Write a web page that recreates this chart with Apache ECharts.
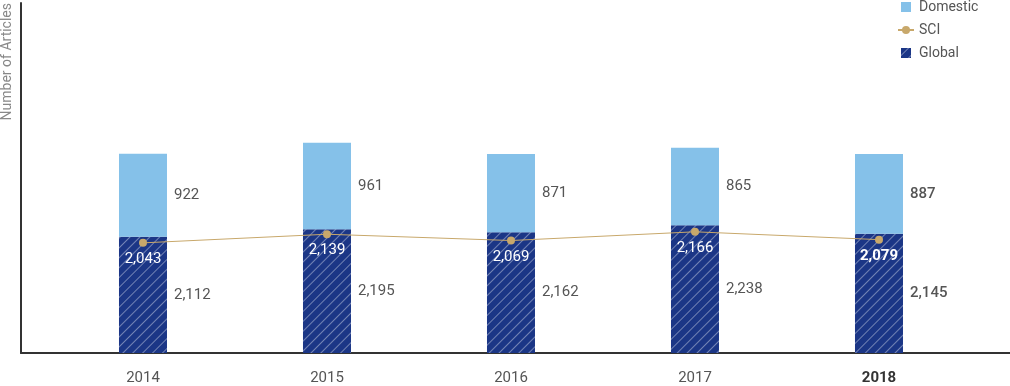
<!DOCTYPE html>
<html><head><meta charset="utf-8">
<script src="https://cdn.jsdelivr.net/npm/echarts@6/dist/echarts.min.js"></script>
<style>html,body{margin:0;padding:0;background:#fff}#c{width:1010px;height:386px}</style>
</head><body><div id="c"></div>
<script>
const years = ['2014', '2015', '2016', '2017', '2018'];
const domestic = [922, 961, 871, 865, 887];
const globalVals = [2112, 2195, 2162, 2238, 2145];
const sci = [2043, 2139, 2069, 2166, 2079];
const highlightIndex = 4;

const FONT = 'Roboto';
const fmt = v => v.toLocaleString('en-US');

function barData(arr) {
  return arr.map((v, i) => {
    const item = { value: [v, i] };
    if (i === highlightIndex) item.label = { fontWeight: 500 };
    return item;
  });
}
function lineData(arr) {
  return arr.map((v, i) => {
    const item = { value: [i, v] };
    if (i === highlightIndex) item.label = { fontWeight: 'bold' };
    return item;
  });
}

const square = 'path://M0,0H10V10H0Z';
const chart = echarts.init(document.getElementById('c'), null, { renderer: 'canvas' });
chart.setOption({
  animation: false,
  textStyle: { fontFamily: FONT },
  legend: {
    orient: 'vertical', left: 897, top: 0, padding: 0,
    itemWidth: 16, itemHeight: 10, itemGap: 9,
    textStyle: { fontSize: 14, color: '#555', fontFamily: FONT },
    data: [
      { name: 'Domestic', icon: square },
      { name: 'SCI' },
      { name: 'Global', icon: square }
    ]
  },
  grid: { left: 21, right: 0, top: 0, bottom: 33 },
  xAxis: {
    type: 'value', min: -0.663, max: 4.712,
    axisLine: { show: true, onZero: false, lineStyle: { color: '#333', width: 2 } },
    axisTick: { show: false },
    splitLine: { show: false },
    axisLabel: {
      customValues: [0, 1, 2, 3, 4],
      margin: 18, fontSize: 15, color: '#555', fontFamily: FONT,
      formatter: v => (Math.round(v) === highlightIndex ? '{b|' + years[Math.round(v)] + '}' : years[Math.round(v)]),
      rich: { b: { fontWeight: 'bold', color: '#333', fontSize: 15, fontFamily: FONT } }
    }
  },
  yAxis: {
    type: 'value', min: 817, max: 4713,
    axisLine: { show: true, onZero: false, lineStyle: { color: '#333', width: 2 } },
    axisTick: { show: false },
    axisLabel: { show: false },
    splitLine: { show: false },
    name: 'Number of Articles', nameLocation: 'end', nameRotate: 90, nameGap: 0,
    nameTextStyle: { fontSize: 14, color: '#888', fontFamily: FONT, align: 'right', verticalAlign: 'bottom', padding: [0, 0, 7, 0] }
  },
  series: [
    {
      name: 'Global', type: 'bar', stack: 'total', barWidth: 48,
      encode: { x: 1, y: 0 },
      data: barData(globalVals),
      itemStyle: {
        color: '#1b3686',
        decal: { symbol: 'rect', symbolSize: 1, color: 'rgba(255,255,255,0.38)', dashArrayX: [1, 0], dashArrayY: [1, 5.5], rotation: -Math.PI / 4 }
      },
      label: { show: true, position: 'right', distance: 7, fontSize: 15, color: '#555', fontFamily: FONT,
        formatter: p => fmt(globalVals[p.dataIndex]) }
    },
    {
      name: 'Domestic', type: 'bar', stack: 'total', barWidth: 48,
      encode: { x: 1, y: 0 },
      data: barData(domestic),
      itemStyle: { color: '#85c1e9' },
      label: { show: true, position: 'right', distance: 7, fontSize: 15, color: '#555', fontFamily: FONT,
        formatter: p => fmt(domestic[p.dataIndex]) }
    },
    {
      name: 'SCI', type: 'line',
      data: lineData(sci),
      symbol: 'circle', symbolSize: 8,
      itemStyle: { color: '#c8a86b' },
      lineStyle: { color: '#c8a86b', width: 1 },
      label: { show: true, position: 'bottom', distance: 5, fontSize: 15, color: '#fff', fontFamily: FONT,
        formatter: p => fmt(sci[p.dataIndex]) },
      z: 5
    }
  ]
});
</script></body></html>
